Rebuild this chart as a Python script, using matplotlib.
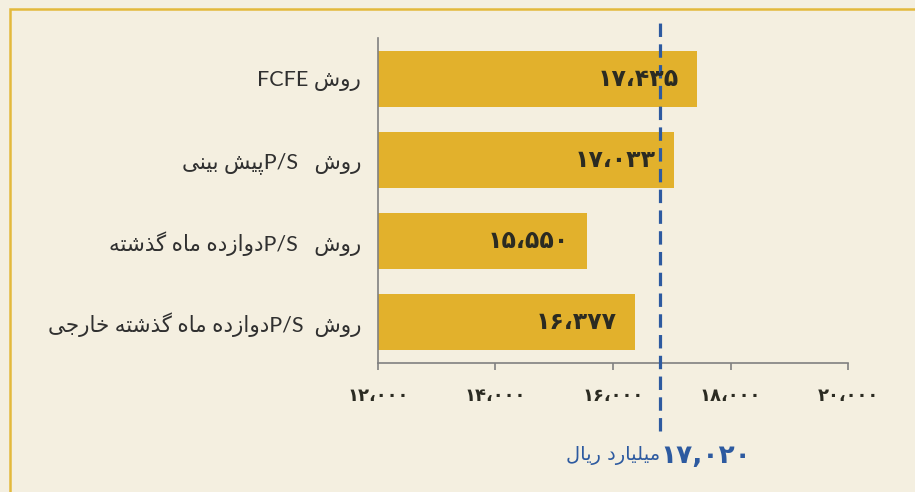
import matplotlib
matplotlib.use("Agg")
import matplotlib.pyplot as plt
from matplotlib.patches import Rectangle

# ---------------------------------------------------------------------------
# data
# ---------------------------------------------------------------------------
methods = [
    "روش FCFE",
    "روش   P/Sپیش بینی",
    "روش   P/Sدوازده ماه گذشته",
    "روش  P/Sدوازده ماه گذشته خارجی",
]
values = [17435, 17033, 15550, 16377]
value_labels = ["۱۷،۴۳۵", "۱۷،۰۳۳", "۱۵،۵۵۰", "۱۶،۳۷۷"]
x_ticks = [12000, 14000, 16000, 18000, 20000]
x_tick_labels = ["۱۲،۰۰۰", "۱۴،۰۰۰", "۱۶،۰۰۰", "۱۸،۰۰۰", "۲۰،۰۰۰"]
ref_line = 16800          # where the dashed line sits in the picture
ref_number = "۱۷,۰۲۰"
ref_unit = "میلیارد ریال"

# ---------------------------------------------------------------------------
# tiny Persian shaper + bidi (matplotlib has neither)
# ---------------------------------------------------------------------------
# isolated, final, initial, medial
FORMS = {
    "ا": ("\uFE8D", "\uFE8E", None, None),
    "ب": ("\uFE8F", "\uFE90", "\uFE91", "\uFE92"),
    "پ": ("\uFB56", "\uFB57", "\uFB58", "\uFB59"),
    "ت": ("\uFE95", "\uFE96", "\uFE97", "\uFE98"),
    "ج": ("\uFE9D", "\uFE9E", "\uFE9F", "\uFEA0"),
    "خ": ("\uFEA5", "\uFEA6", "\uFEA7", "\uFEA8"),
    "د": ("\uFEA9", "\uFEAA", None, None),
    "ذ": ("\uFEAB", "\uFEAC", None, None),
    "ر": ("\uFEAD", "\uFEAE", None, None),
    "ز": ("\uFEAF", "\uFEB0", None, None),
    "ش": ("\uFEB5", "\uFEB6", "\uFEB7", "\uFEB8"),
    "گ": ("\uFB92", "\uFB93", "\uFB94", "\uFB95"),
    "ل": ("\uFEDD", "\uFEDE", "\uFEDF", "\uFEE0"),
    "م": ("\uFEE1", "\uFEE2", "\uFEE3", "\uFEE4"),
    "ن": ("\uFEE5", "\uFEE6", "\uFEE7", "\uFEE8"),
    "ه": ("\uFEE9", "\uFEEA", "\uFEEB", "\uFEEC"),
    "و": ("\uFEED", "\uFEEE", None, None),
    "ی": ("\uFBFC", "\uFBFD", "\uFBFE", "\uFBFF"),
}


def shape(s):
    out = []
    for i, ch in enumerate(s):
        if ch not in FORMS:
            out.append(ch)
            continue
        prev = s[i - 1] if i > 0 else ""
        nxt = s[i + 1] if i + 1 < len(s) else ""
        join_prev = prev in FORMS and FORMS[prev][2] is not None
        join_next = nxt in FORMS and FORMS[ch][2] is not None
        iso, fin, ini, med = FORMS[ch]
        if join_prev and join_next:
            out.append(med)
        elif join_prev:
            out.append(fin)
        elif join_next:
            out.append(ini)
        else:
            out.append(iso)
    return "".join(out)


def is_ltr(ch):
    return (ch.isascii() and (ch.isalnum() or ch in "/,.")) or \
        ("\u06F0" <= ch <= "\u06F9") or ch == "،"


def fa(s):
    """shape, then reorder a right-to-left line for left-to-right drawing"""
    s = shape(s)
    runs = []
    for ch in s:
        ltr = is_ltr(ch)
        if runs and runs[-1][0] == ltr:
            runs[-1][1].append(ch)
        else:
            runs.append([ltr, [ch]])
    parts = []
    for ltr, chars in reversed(runs):
        parts.append("".join(chars if ltr else reversed(chars)))
    return "".join(parts)


# ---------------------------------------------------------------------------
# plot
# ---------------------------------------------------------------------------
BG = "#f4efe0"
BAR = "#e2b12c"
BLUE = "#2d5aa0"
INK = "#2b2b22"
FONTS = ["Lato", "DejaVu Sans"]

fig = plt.figure(figsize=(9.15, 4.92), dpi=100, facecolor=BG)
ax = fig.add_axes([0.4131, 0.2622, 0.5137, 0.6606])
ax.set_facecolor("none")

ypos = list(range(len(methods)))
ax.barh(ypos, [v - x_ticks[0] for v in values], left=x_ticks[0],
        height=0.69, color=BAR, zorder=2)

for y, v, lab in zip(ypos, values, value_labels):
    ax.annotate(lab, (v, y), xytext=(-13, 0), textcoords="offset points",
                ha="right", va="center", fontsize=17, fontweight="bold",
                color=INK, family="DejaVu Sans", zorder=4)

ax.set_xlim(x_ticks[0], x_ticks[-1])
ax.set_ylim(len(methods) - 0.5, -0.5)
ax.set_xticks(x_ticks)
ax.set_xticklabels(x_tick_labels, fontsize=13, fontweight="bold",
                   color=INK, family="DejaVu Sans")
ax.set_yticks(ypos)
ax.set_yticklabels([fa(m) for m in methods], fontsize=15.5, color="#303030",
                   family=FONTS)
ax.tick_params(axis="y", length=0, pad=12)
ax.tick_params(axis="x", length=5, width=1.2, color="#808080",
               direction="out", pad=12)

for side in ("top", "right"):
    ax.spines[side].set_visible(False)
for side in ("left", "bottom"):
    ax.spines[side].set_color("#808080")
    ax.spines[side].set_linewidth(1.2)

# reference dashed line, running past the axes both ways
ax.axvline(ref_line, ymin=-0.21, ymax=1.05, color=BLUE, lw=2.3,
           dashes=(4.2, 2.3), clip_on=False, zorder=3)

# caption under the line
tr = ax.get_xaxis_transform()
ax.text(ref_line, -0.285, fa(ref_number), transform=tr, ha="left",
        va="center", fontsize=19, fontweight="bold", color=BLUE,
        family="DejaVu Sans")
ax.text(ref_line, -0.285, fa(ref_unit), transform=tr, ha="right",
        va="center", fontsize=14, color=BLUE, family="DejaVu Sans")

# yellow frame of the box (open to the right and bottom)
fig.patches.append(Rectangle((10 / 915, -0.1), 1.2, 1.1 - 9 / 492,
                             transform=fig.transFigure, fill=False,
                             edgecolor="#e3b93c", lw=1.8))

fig.savefig("out.png", dpi=100, facecolor=BG)
